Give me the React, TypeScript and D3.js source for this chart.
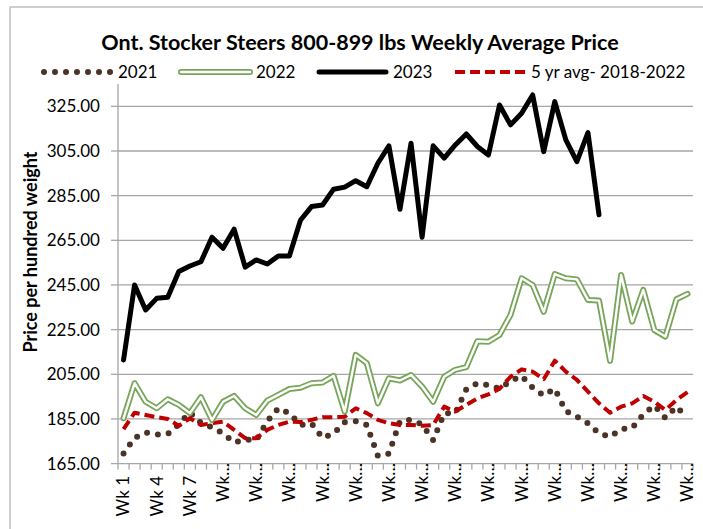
import React from 'react';
import * as d3 from 'd3';

// Ont. Stocker Steers 800-899 lbs — weekly average price, $/cwt

const weeks = d3.range(1, 53);
const tickWeeks = [1, 4, 7, 10, 13, 16, 19, 22, 25, 28, 31, 34, 37, 40, 43, 46, 49, 52];
const yTicks = [165, 185, 205, 225, 245, 265, 285, 305, 325];

const y2021 = [
  169.5, 176.5, 179, 178, 178.3, 182.6, 188, 183.2, 181.3, 178.5, 174.5, 175.8, 175.5,
  184, 189.8, 187.5, 182.3, 183, 176.5, 178.5, 183.5, 184, 182.3, 168.5, 169.5, 184,
  184.6, 182.5, 175.5, 187.5, 187.6, 198.3, 201, 200.2, 198.5, 202, 204.3, 199, 195.5,
  198.5, 188.5, 186, 183, 178.5, 177, 180.5, 181, 187, 191, 185.5, 190.5, 185.5,
];
const y2022 = [
  185.3, 201, 192.7, 189.8, 193.8, 191.3, 187.6, 194.7, 184.5, 192.7, 195.3, 189.8, 186.8,
  193.2, 195.8, 198.4, 199, 201, 201.3, 204.3, 188.3, 213.7, 210, 192, 203.2, 202.2,
  204.7, 199.5, 192.7, 203.9, 207, 208.2, 219.8, 219.6, 222.6, 231.6, 248, 245, 233,
  249.9, 248, 247.5, 238.3, 238, 211, 249.5, 228.6, 242.8, 224.8, 221.9, 238.6, 241,
];
const y2023 = [
  211.4, 245, 233.8, 239, 239.5, 251, 253.5, 255.4, 266.4, 261.4, 270, 253, 256.2,
  254.4, 258, 258, 274, 280.1, 280.8, 287.9, 288.8, 291.7, 289, 299.5, 307.3, 278.9,
  308.5, 266.4, 307.3, 301.8, 307.7, 312.6, 307, 303.2, 325.6, 316.7, 321.9, 330.1,
  304.7, 327.1, 310, 300.2, 313.2, 276.4,
];
const yAvg = [
  180.4, 187.8, 186.8, 185.8, 185, 181.9, 185.3, 182.3, 183.1, 183.8, 180.1, 176.4, 176.4,
  180.1, 182.3, 183.8, 183.6, 184.6, 185.8, 185.8, 186, 189.8, 187.6, 184.6, 183.1, 182.3,
  182.3, 181.9, 182.3, 190.5, 188.3, 191.3, 194.2, 196, 198.5, 203.9, 207.2, 206.2, 202.8,
  211.1, 206.2, 202.5, 197.2, 192, 187.8, 190.5, 192, 195.3, 192.7, 189, 193.5, 197,
];

const W = 703;
const H = 529;
const margin = { left: 118, right: 693, top: 84, bottom: 463.6 };
const font = 'Lato, "Open Sans", sans-serif';

const GREEN = '#77a55a';
const RED = '#c00000';
const BROWN = '#4b3326';
const GRID = '#a6a6a6';

export default function App() {
  const x = d3.scaleBand<number>().domain(weeks).range([margin.left, margin.right]).padding(0);
  const y = d3.scaleLinear().domain([165, 335]).range([margin.bottom, margin.top]);
  const cx = (w: number) => (x(w) as number) + x.bandwidth() / 2;

  const line = d3
    .line<number>()
    .x((_, i) => cx(weeks[i]))
    .y((d) => y(d));

  const bands = d3.range(0, 53).map((i) => margin.left + i * x.bandwidth());

  return (
    <svg width={W} height={H} style={{ position: 'absolute', left: 0, top: 0, background: '#fff' }}>
      <rect x={10} y={7} width={W + 20} height={H + 20} fill="#fff" stroke="#bfbfbf" strokeWidth={1.5} />

      {/* title */}
      <text x={360} y={42} textAnchor="middle" dy="0.35em" fontFamily={font} fontWeight="bold" fontSize={21.5} fill="#000">
        Ont. Stocker Steers 800-899 lbs Weekly Average Price
      </text>

      {/* legend */}
      <g fontFamily={font} fontSize={17} fill="#000">
        <line x1={44} x2={111} y1={72} y2={72} stroke={BROWN} strokeWidth={6} strokeLinecap="round" strokeDasharray="0 11" />
        <text x={118} y={72} dy="0.35em">2021</text>
        <line x1={181} x2={250} y1={72} y2={72} stroke={GREEN} strokeWidth={6} strokeLinecap="round" />
        <line x1={181} x2={250} y1={72} y2={72} stroke="#fff" strokeWidth={2.4} strokeLinecap="round" />
        <text x={256} y={72} dy="0.35em">2022</text>
        <line x1={319} x2={386} y1={72} y2={72} stroke="#000" strokeWidth={5} strokeLinecap="round" />
        <text x={393} y={72} dy="0.35em">2023</text>
        <line x1={455} x2={525} y1={72} y2={72} stroke={RED} strokeWidth={4} strokeDasharray="10 5" />
        <text x={531} y={72} dy="0.35em">5 yr avg- 2018-2022</text>
      </g>

      {/* gridlines */}
      {yTicks.slice(1).map((t) => (
        <line key={t} x1={margin.left} x2={margin.right} y1={y(t)} y2={y(t)} stroke={GRID} strokeWidth={1.3} />
      ))}

      {/* y axis */}
      <line x1={margin.left} x2={margin.left} y1={margin.top} y2={margin.bottom} stroke={GRID} strokeWidth={1.3} />
      {yTicks.map((t) => (
        <g key={t}>
          <line x1={margin.left - 7} x2={margin.left} y1={y(t)} y2={y(t)} stroke={GRID} strokeWidth={1.3} />
          <text x={100} y={y(t)} dy="0.35em" textAnchor="end" fontFamily={font} fontSize={17} fill="#000">
            {t.toFixed(2)}
          </text>
        </g>
      ))}
      <text
        transform={`translate(31, 252) rotate(-90)`}
        textAnchor="middle"
        dy="0.35em"
        fontFamily={font}
        fontWeight="bold"
        fontSize={18}
        fill="#000"
      >
        Price per hundred weight
      </text>

      {/* x axis */}
      <line x1={margin.left} x2={margin.right} y1={margin.bottom} y2={margin.bottom} stroke={GRID} strokeWidth={1.3} />
      {bands.map((b, i) => (
        <line key={i} x1={b} x2={b} y1={margin.bottom} y2={margin.bottom + 6} stroke={GRID} strokeWidth={1.3} />
      ))}
      {tickWeeks.map((w) => {
        const short = w <= 7;
        return (
          <text
            key={w}
            transform={`translate(${cx(w)}, ${short ? 476 : 463}) rotate(-90)`}
            textAnchor="end"
            dy="0.35em"
            fontFamily={font}
            fontSize={17}
            fill="#000"
          >
            {short ? `Wk ${w}` : 'Wk…'}
          </text>
        );
      })}

      {/* series */}
      <path d={line(y2021) ?? ''} fill="none" stroke={BROWN} strokeWidth={6} strokeLinecap="round" strokeDasharray="0 11" />
      <path d={line(yAvg) ?? ''} fill="none" stroke={RED} strokeWidth={4} strokeDasharray="10 5" strokeLinejoin="round" />
      <path d={line(y2022) ?? ''} fill="none" stroke={GREEN} strokeWidth={6} strokeLinejoin="round" strokeLinecap="round" />
      <path d={line(y2022) ?? ''} fill="none" stroke="#fff" strokeWidth={2.4} strokeLinejoin="round" strokeLinecap="round" />
      <path d={line(y2023) ?? ''} fill="none" stroke="#000" strokeWidth={5} strokeLinejoin="round" strokeLinecap="round" />
    </svg>
  );
}
